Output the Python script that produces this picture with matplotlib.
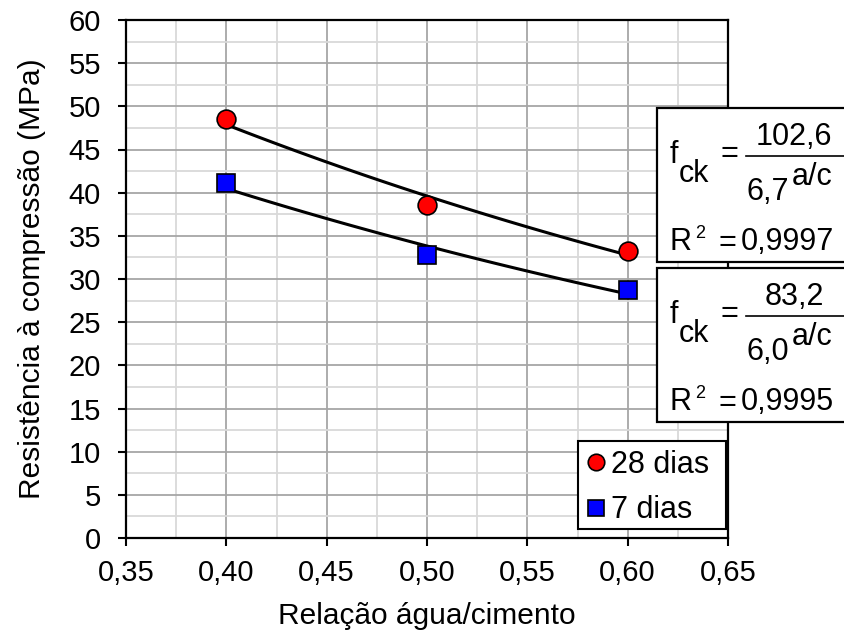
import numpy as np
import matplotlib
matplotlib.use("Agg")
import matplotlib.pyplot as plt
from matplotlib.patches import Rectangle
from matplotlib.lines import Line2D
from matplotlib.ticker import MultipleLocator, FuncFormatter

plt.rcParams['font.family'] = ['Liberation Sans', 'DejaVu Sans']

# ---- data ----
ac = [0.40, 0.50, 0.60]
fc28 = [48.5, 38.6, 33.2]
fc7 = [41.1, 32.8, 28.7]
labels = ["28 dias", "7 dias"]
eq28 = ("102,6", "6,7", "0,9997")
eq7 = ("83,2", "6,0", "0,9995")

W, H = 844, 632
fig = plt.figure(figsize=(W / 100, H / 100), dpi=100)
ax = fig.add_axes([126 / W, 1 - 538 / H, (728 - 126) / W, (538 - 20) / H])

ax.set_xlim(0.35, 0.65)
ax.set_ylim(0, 60)
ax.xaxis.set_major_locator(MultipleLocator(0.05))
ax.xaxis.set_minor_locator(MultipleLocator(0.025))
ax.yaxis.set_major_locator(MultipleLocator(5))
ax.yaxis.set_minor_locator(MultipleLocator(2.5))
ax.xaxis.set_major_formatter(FuncFormatter(lambda v, p: f"{v:.2f}".replace(".", ",")))
ax.yaxis.set_major_formatter(FuncFormatter(lambda v, p: f"{v:.0f}"))
ax.grid(which='major', color='#a6a6a6', lw=1.3, zorder=0)
ax.grid(which='minor', color='#d9d9d9', lw=1.3, zorder=0)
ax.set_axisbelow(True)
ax.tick_params(which='major', direction='out', length=6, width=1.5, labelsize=21, color='black')
ax.tick_params(axis='y', pad=12)
ax.tick_params(axis='x', pad=9)
ax.tick_params(which='minor', length=0)
for s in ax.spines.values():
    s.set_linewidth(1.6)
    s.set_color('black')

ax.set_xlabel("Relação água/cimento", fontsize=21.5, labelpad=11)
ax.set_ylabel("Resistência à compressão (MPa)", fontsize=21.5, labelpad=16)

# exponential trendlines (fit ln y = a + b x)
xs = np.linspace(min(ac), max(ac), 100)
for ys in (fc28, fc7):
    b, a = np.polyfit(ac, np.log(ys), 1)
    ax.plot(xs, np.exp(a + b * xs), color='black', lw=2.2, zorder=3)

ax.plot(ac, fc28, 'o', ms=13.5, mfc='#ff0000', mec='black', mew=1.2, ls='none', zorder=4, label=labels[0])
ax.plot(ac, fc7, 's', ms=13, mfc='#0000ff', mec='black', mew=1.2, ls='none', zorder=4, label=labels[1])

def P(x, y):
    return (x / W, 1 - y / H)

# legend frame drawn separately (inside the axes), entries via legend without frame
ax.add_patch(Rectangle(P(578, 529), (726 - 578) / W, (529 - 441) / H, transform=fig.transFigure,
                       facecolor='white', edgecolor='black', lw=1.5, zorder=5, clip_on=False))
leg = ax.legend(loc='upper left', bbox_to_anchor=P(588, 450), bbox_transform=fig.transFigure,
                fontsize=22, frameon=False, handlelength=0.52, handletextpad=0.22, borderpad=0,
                labelspacing=0.5, markerscale=0.88, borderaxespad=0)
leg.set_zorder(6)

def eqbox(top, num, base, r2):
    d = top - 108
    fig.patches.append(Rectangle(P(657, top + 154), (W - 657 + 20) / W, 154 / H, transform=fig.transFigure,
                                 facecolor='white', edgecolor='black', lw=1.6, zorder=5, clip_on=False))
    kw = dict(transform=fig.transFigure, zorder=7, color='black', fontsize=22, va='baseline')
    fig.text(*P(674, 163 + d), "f", ha='center', **kw)
    fig.text(*P(694, 182 + d), "ck", ha='center', **kw)
    fig.text(*P(729, 162 + d), "=", ha='center', **kw)
    fig.lines.append(Line2D([746 / W, 844 / W], [1 - (156 + d) / H] * 2, transform=fig.transFigure,
                            color='black', lw=1.2, zorder=7))
    fig.text(*P(794, 145 + d), num, ha='center', **kw)
    fig.text(*P(747, 200 + d), base, ha='left', **kw)
    fig.text(*P(812, 185 + d), "a/c", ha='center', **kw)
    fig.text(*P(669, 250 + d), "R", ha='left', **kw)
    kw2 = dict(kw)
    kw2['fontsize'] = 13
    fig.text(*P(695, 238 + d), "2", ha='left', **kw2)
    fig.text(*P(727, 251 + d), "=", ha='center', **kw)
    fig.text(*P(741, 250 + d), r2, ha='left', **kw)

eqbox(108, *eq28)
eqbox(268, *eq7)

fig.savefig("out.png", dpi=100)
